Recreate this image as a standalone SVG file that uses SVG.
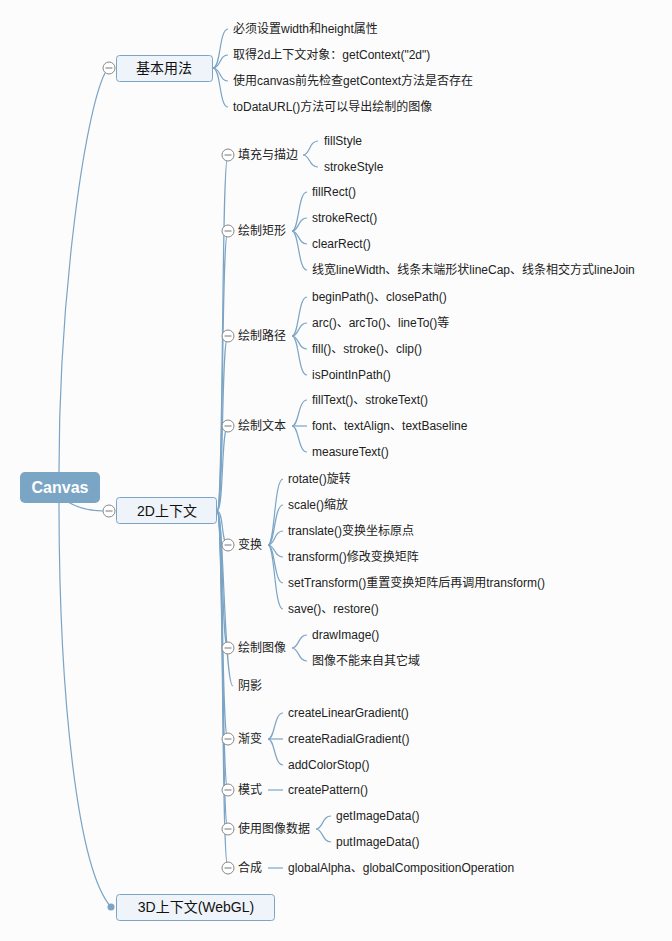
<svg xmlns="http://www.w3.org/2000/svg" width="672" height="941" viewBox="0 0 672 941">
<style>
.bg{fill:#fcfcfc}
.ln{fill:none;stroke:#7ba4c5;stroke-width:1.2}
.t{font-family:"Liberation Sans","Noto Sans CJK SC",sans-serif;font-size:12px;fill:#222}
.nt{font-family:"Liberation Sans","Noto Sans CJK SC",sans-serif;font-size:14px;fill:#111;text-anchor:middle}
.node{fill:#eef4f9;stroke:#7ba4c5;stroke-width:1}
.cc{fill:#fff;stroke:#888;stroke-width:1}
.cm{stroke:#777;stroke-width:1}
</style>
<defs>
<g id="col"><circle class="cc" cx="0" cy="0" r="6"/><line class="cm" x1="-3.5" y1="0" x2="3.5" y2="0"/></g>
</defs>
<rect class="bg" x="0" y="0" width="672" height="941"/>
<g id="connectors">
<path class="ln" d="M59,472 C59,300 84,115 105,73"/>
<path class="ln" d="M68,502 C80,509 92,511 104,511"/>
<path class="ln" d="M59,502 C59,700 78,870 111,907"/>
<!-- 基本用法 -->
<path class="ln" d="M213,68 C221,68 219,29 228,29"/>
<path class="ln" d="M213,68 C221,68 219,55 228,55"/>
<path class="ln" d="M213,68 C221,68 219,81 228,81"/>
<path class="ln" d="M213,68 C221,68 219,107 228,107"/>
<!-- 2D -->
<path class="ln" d="M217,511 C224,511 221,155 228,155"/>
<path class="ln" d="M217,511 C224,511 221,231 228,231"/>
<path class="ln" d="M217,511 C224,511 221,336 228,336"/>
<path class="ln" d="M217,511 C224,511 221,426 228,426"/>
<path class="ln" d="M217,511 C224,511 221,545 228,545"/>
<path class="ln" d="M217,511 C224,511 221,648 228,648"/>
<path class="ln" d="M217,511 C224,511 224,686 233,686"/>
<path class="ln" d="M217,511 C224,511 221,739 228,739"/>
<path class="ln" d="M217,511 C224,511 221,790 228,790"/>
<path class="ln" d="M217,511 C224,511 221,829 228,829"/>
<path class="ln" d="M217,511 C224,511 221,868 228,868"/>
<!-- 填充与描边 -->
<path class="ln" d="M303,155 C310,155 309,141 318,141"/>
<path class="ln" d="M303,155 C310,155 309,167 318,167"/>
<!-- 绘制矩形 -->
<path class="ln" d="M292,231 C299,231 298,192 307,192"/>
<path class="ln" d="M292,231 C299,231 298,218 307,218"/>
<path class="ln" d="M292,231 C299,231 298,244 307,244"/>
<path class="ln" d="M292,231 C299,231 298,270 307,270"/>
<!-- 绘制路径 -->
<path class="ln" d="M292,336 C299,336 298,297 307,297"/>
<path class="ln" d="M292,336 C299,336 298,323 307,323"/>
<path class="ln" d="M292,336 C299,336 298,349 307,349"/>
<path class="ln" d="M292,336 C299,336 298,375 307,375"/>
<!-- 绘制文本 -->
<path class="ln" d="M292,426 C299,426 298,400 307,400"/>
<path class="ln" d="M292,426 L307,426"/>
<path class="ln" d="M292,426 C299,426 298,452 307,452"/>
<!-- 变换 -->
<path class="ln" d="M268,545 C275,545 274,479 283,479"/>
<path class="ln" d="M268,545 C275,545 274,505 283,505"/>
<path class="ln" d="M268,545 C275,545 274,531 283,531"/>
<path class="ln" d="M268,545 C275,545 274,557 283,557"/>
<path class="ln" d="M268,545 C275,545 274,583 283,583"/>
<path class="ln" d="M268,545 C275,545 274,609 283,609"/>
<!-- 绘制图像 -->
<path class="ln" d="M292,648 C299,648 298,635 307,635"/>
<path class="ln" d="M292,648 C299,648 298,661 307,661"/>
<!-- 渐变 -->
<path class="ln" d="M268,739 C275,739 274,713 283,713"/>
<path class="ln" d="M268,739 L283,739"/>
<path class="ln" d="M268,739 C275,739 274,765 283,765"/>
<!-- 模式 -->
<path class="ln" d="M268,790 L283,790"/>
<!-- 使用图像数据 -->
<path class="ln" d="M316,829 C323,829 322,816 331,816"/>
<path class="ln" d="M316,829 C323,829 322,842 331,842"/>
<!-- 合成 -->
<path class="ln" d="M268,868 L283,868"/>
</g>
<g id="canvas">
<rect x="20" y="472" width="80" height="31" rx="5" fill="#7aa5c5"/>
<text x="60" y="492.5" font-family="Liberation Sans, sans-serif" font-size="16" font-weight="bold" fill="#fff" text-anchor="middle">Canvas</text>
</g>
<g id="basic">
<rect class="node" x="116.5" y="55.5" width="96" height="26" rx="3"/>
<text class="nt" x="164" y="73">基本用法</text>
<use href="#col" x="109" y="68"/>
<text class="t" x="233" y="33">必须设置width和height属性</text>
<text class="t" x="233" y="59">取得2d上下文对象：getContext("2d")</text>
<text class="t" x="233" y="85">使用canvas前先检查getContext方法是否存在</text>
<text class="t" x="233" y="111">toDataURL()方法可以导出绘制的图像</text>
</g>
<g id="ctx2d">
<rect class="node" x="116.5" y="497.5" width="100" height="26" rx="3"/>
<text class="nt" x="167" y="516">2D上下文</text>
<use href="#col" x="109" y="511"/>
</g>
<g id="ctx3d">
<rect class="node" x="116.5" y="894.5" width="158" height="26" rx="3"/>
<text class="nt" x="196" y="912">3D上下文(WebGL)</text>
<circle cx="111" cy="907" r="3.5" fill="#7ba4c5"/>
</g>
<g id="fill-stroke">
<use href="#col" x="228" y="155"/>
<text class="t" x="238" y="159">填充与描边</text>
<text class="t" x="324" y="145">fillStyle</text>
<text class="t" x="324" y="171">strokeStyle</text>
</g>
<g id="rect">
<use href="#col" x="228" y="231"/>
<text class="t" x="238" y="235">绘制矩形</text>
<text class="t" x="312" y="196">fillRect()</text>
<text class="t" x="312" y="222">strokeRect()</text>
<text class="t" x="312" y="248">clearRect()</text>
<text class="t" x="312" y="274">线宽lineWidth、线条末端形状lineCap、线条相交方式lineJoin</text>
</g>
<g id="path">
<use href="#col" x="228" y="336"/>
<text class="t" x="238" y="340">绘制路径</text>
<text class="t" x="312" y="301">beginPath()、closePath()</text>
<text class="t" x="312" y="327">arc()、arcTo()、lineTo()等</text>
<text class="t" x="312" y="353">fill()、stroke()、clip()</text>
<text class="t" x="312" y="379">isPointInPath()</text>
</g>
<g id="text">
<use href="#col" x="228" y="426"/>
<text class="t" x="238" y="430">绘制文本</text>
<text class="t" x="312" y="404">fillText()、strokeText()</text>
<text class="t" x="312" y="430">font、textAlign、textBaseline</text>
<text class="t" x="312" y="456">measureText()</text>
</g>
<g id="transform">
<use href="#col" x="228" y="545"/>
<text class="t" x="238" y="549">变换</text>
<text class="t" x="288" y="483">rotate()旋转</text>
<text class="t" x="288" y="509">scale()缩放</text>
<text class="t" x="288" y="535">translate()变换坐标原点</text>
<text class="t" x="288" y="561">transform()修改变换矩阵</text>
<text class="t" x="288" y="587">setTransform()重置变换矩阵后再调用transform()</text>
<text class="t" x="288" y="613">save()、restore()</text>
</g>
<g id="image">
<use href="#col" x="228" y="648"/>
<text class="t" x="238" y="652">绘制图像</text>
<text class="t" x="312" y="639">drawImage()</text>
<text class="t" x="312" y="665">图像不能来自其它域</text>
</g>
<g id="shadow">
<text class="t" x="238" y="690">阴影</text>
</g>
<g id="gradient">
<use href="#col" x="228" y="739"/>
<text class="t" x="238" y="743">渐变</text>
<text class="t" x="288" y="717">createLinearGradient()</text>
<text class="t" x="288" y="743">createRadialGradient()</text>
<text class="t" x="288" y="769">addColorStop()</text>
</g>
<g id="pattern">
<use href="#col" x="228" y="790"/>
<text class="t" x="238" y="794">模式</text>
<text class="t" x="288" y="794">createPattern()</text>
</g>
<g id="imagedata">
<use href="#col" x="228" y="829"/>
<text class="t" x="238" y="833">使用图像数据</text>
<text class="t" x="336" y="820">getImageData()</text>
<text class="t" x="336" y="846">putImageData()</text>
</g>
<g id="composite">
<use href="#col" x="228" y="868"/>
<text class="t" x="238" y="872">合成</text>
<text class="t" x="288" y="872">globalAlpha、globalCompositionOperation</text>
</g>
</svg>
